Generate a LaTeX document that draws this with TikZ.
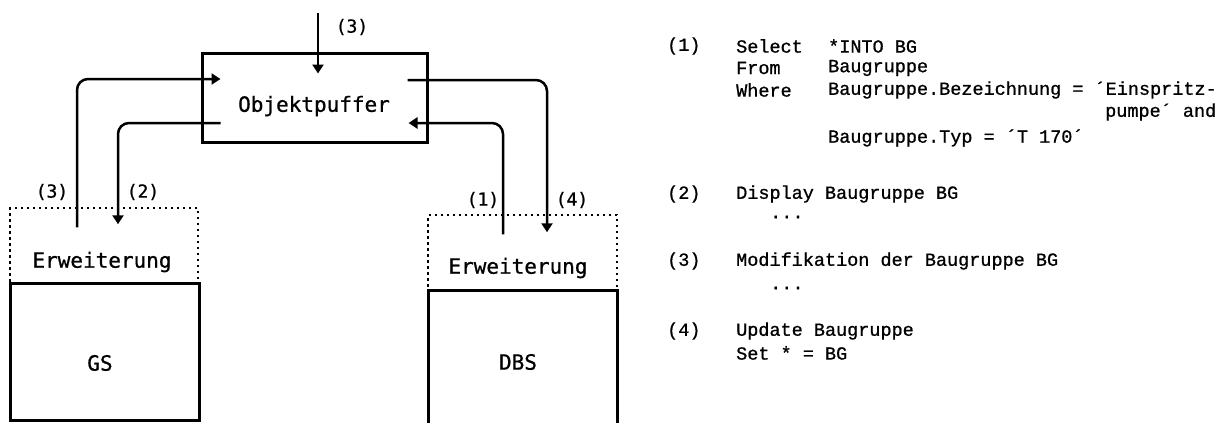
\documentclass[tikz,border=0pt]{standalone}
\usepackage{fontspec}
\usetikzlibrary{arrows.meta}
\newfontfamily\plotfont[FakeBold=0.8]{DejaVu Sans Mono}
\newfontfamily\typfont[FakeBold=0.9]{Liberation Mono}
\begin{document}
\begin{tikzpicture}[x=1pt,y=-1pt,
  solidbox/.style={draw, line width=3pt, inner sep=0pt},
  dotbox/.style={draw, line width=1.5pt, dash pattern=on 2.5pt off 3.5pt, inner sep=0pt},
  conn/.style={line width=2.5pt, rounded corners=11pt},
  arr/.style={conn, -{Triangle[length=9pt,width=11pt]}},
  lbl/.style={font=\plotfont\fontsize{18}{18}\selectfont, inner sep=0pt},
  big/.style={font=\plotfont\fontsize{21}{21}\selectfont, inner sep=0pt},
  code/.style={font=\typfont\fontsize{18.5}{22}\selectfont, anchor=west, inner sep=0pt}]
\useasboundingbox (0,0) rectangle (1232,423);
\fill[white] (0,0) rectangle (1232,423);

% boxes
\node[solidbox, minimum width=225pt, minimum height=89pt] (obj) at (314.5,97.5) {};
\node[big] (objt) at (314,106) {Objektpuffer};

\node[dotbox, minimum width=188pt, minimum height=75pt] (gsx) at (104,245.5) {};
\node[solidbox, minimum width=189pt, minimum height=137pt] (gs) at (104.5,351.5) {};
\node[big] (gsxt) at (102,262) {Erweiterung};
\node[big] (gst) at (100,363) {GS};

\node[dotbox, minimum width=189pt, minimum height=75pt] (dbsx) at (522.5,252.5) {};
\node[solidbox, minimum width=189pt, minimum height=160pt] (dbs) at (522.5,370) {};
\node[big] (dbsxt) at (518,268) {Erweiterung};
\node[big] (dbst) at (518,362) {DBS};

% connectors
\coordinate (t3) at (318,13);
\coordinate (t3e) at ([yshift=-22pt]obj.north);
\draw[arr] (t3) -- (t3 |- t3e);
\draw[arr] ([xshift=-27pt,yshift=-20pt]gsx.north) |- ([xshift=20pt,yshift=18.5pt]obj.west);
\draw[arr] ([xshift=20pt,yshift=-25.5pt]obj.west) -| ([xshift=14pt,yshift=-17pt]gsx.north);
\draw[arr] ([xshift=-21pt,yshift=17.5pt]obj.east) -| ([xshift=24.5pt,yshift=-18pt]dbsx.north);
\draw[arr] ([xshift=-19.5pt,yshift=-20pt]dbsx.north) |- ([xshift=-20pt,yshift=-25.5pt]obj.east);

% connector labels
\node[lbl] (l3t) at (352,27) {(3)};
\node[lbl] (l3) at (52,192) {(3)};
\node[lbl] (l2) at (143,192) {(2)};
\node[lbl] (l1) at (483,200) {(1)};
\node[lbl] (l4) at (572,200) {(4)};

% code text
\node[code] (c1) at (667,46) {(1)};
\node[code] (c1a) at (736,46) {Select};
\node[code] (c1b) at (828,46) {*INTO BG};
\node[code] (c1c) at (736,68) {From};
\node[code] (c1d) at (828,68) {Baugruppe};
\node[code] (c1e) at (736,90) {Where};
\node[code] (c1f) at (828,90) {Baugruppe.Bezeichnung = ´Einspritz-};
\node[code] (c1g) at (1105,112) {pumpe´ and};
\node[code] (c1h) at (828,138) {Baugruppe.Typ = ´T 170´};

\node[code] (c2) at (667,194) {(2)};
\node[code] (c2a) at (736,194) {Display Baugruppe BG};
\node[code] (c2b) at (770,217) {...};

\node[code] (c3) at (667,261) {(3)};
\node[code] (c3a) at (736,261) {Modifikation der Baugruppe BG};
\node[code] (c3b) at (770,288) {...};

\node[code] (c4) at (667,331) {(4)};
\node[code] (c4a) at (736,331) {Update Baugruppe};
\node[code] (c4b) at (736,353) {Set * = BG};
\end{tikzpicture}
\end{document}
